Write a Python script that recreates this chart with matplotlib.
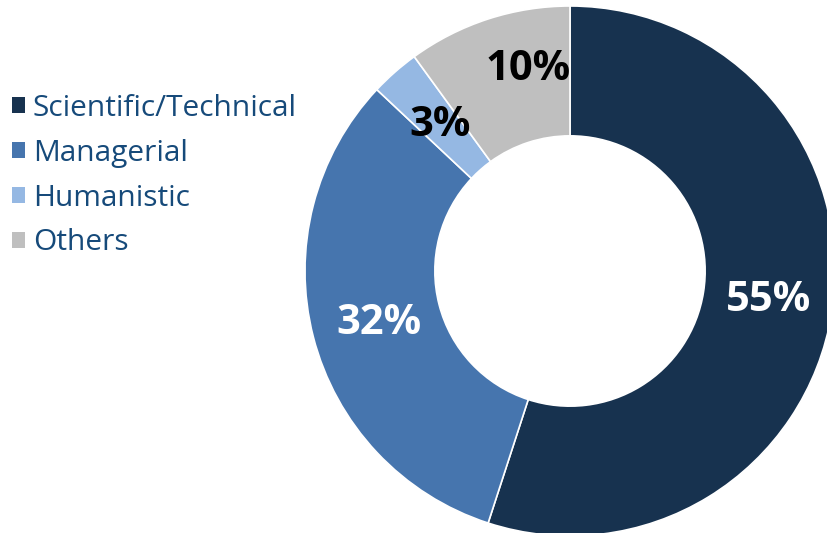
import matplotlib
matplotlib.use("Agg")
import matplotlib.pyplot as plt
from matplotlib.patches import Patch

categories = ["Scientific/Technical", "Managerial", "Humanistic", "Others"]
values = [55, 32, 3, 10]
labels = ["55%", "32%", "3%", "10%"]
colors = ["#17324F", "#4675AE", "#95B8E3", "#BFBFBF"]
label_colors = ["white", "white", "black", "black"]
# label positions in units of outer radius (style only)
label_pos = [(0.75, -0.11), (-0.72, -0.20), (-0.49, 0.55), (-0.16, 0.76)]

W, H = 828, 533
fig = plt.figure(figsize=(W / 100, H / 100), dpi=100)
R = 265
cx, cy = 570, 271
ax = fig.add_axes([(cx - R) / W, (H - cy - R) / H, 2 * R / W, 2 * R / H])
ax.axis("off")

wedges, _ = ax.pie(values, colors=colors, startangle=90, counterclock=False,
                   radius=1, wedgeprops=dict(width=0.49, edgecolor="white", linewidth=1.2))
ax.set_xlim(-1, 1)
ax.set_ylim(-1, 1)
ax.set_aspect("equal")

for lab, pos, c in zip(labels, label_pos, label_colors):
    ax.text(pos[0], pos[1], lab, color=c, fontsize=30, fontweight="bold",
            family="Open Sans", ha="center", va="center")

handles = [Patch(facecolor=c, edgecolor="none") for c in colors]
leg = fig.legend(handles, categories, loc="upper left", bbox_to_anchor=(12 / W, 1 - 94 / H),
                 frameon=False, prop=dict(family="Open Sans", size=21.5),
                 labelcolor="#164A7A", handlelength=0.45, handleheight=0.45,
                 handletextpad=0.25, labelspacing=0.53, borderaxespad=0, borderpad=0)

fig.savefig("out.png", dpi=100)
